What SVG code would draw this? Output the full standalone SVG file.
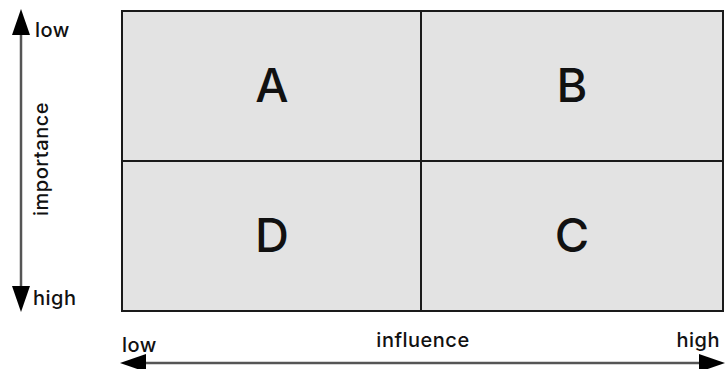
<svg xmlns="http://www.w3.org/2000/svg" width="726" height="369" viewBox="0 0 726 369">
  <style>
    .lbl { font-family: Inter, "Open Sans", sans-serif; font-size: 20px; font-weight: 500; letter-spacing: 0.5px; fill: #111; }
    .big { font-family: Inter, "Open Sans", sans-serif; font-size: 47px; font-weight: 500; fill: #111; text-anchor: middle; }
    .cell { fill: #e3e3e3; stroke: #1a1a1a; stroke-width: 2; }
    .axis { stroke: #555; stroke-width: 2.5; fill: none; }
  </style>

  <rect width="726" height="369" fill="#fff"/>

  <g id="quadrant-A"><rect class="cell" x="122" y="11" width="299" height="150"/><text class="big" x="272" y="102">A</text></g>
  <g id="quadrant-B"><rect class="cell" x="421" y="11" width="302" height="150"/><text class="big" x="572" y="102">B</text></g>
  <g id="quadrant-D"><rect class="cell" x="122" y="161" width="299" height="150"/><text class="big" x="272" y="252">D</text></g>
  <g id="quadrant-C"><rect class="cell" x="421" y="161" width="302" height="150"/><text class="big" x="572" y="252">C</text></g>

  <g id="connectors">
    <!-- vertical importance axis -->
    <line class="axis" x1="21" y1="30" x2="21" y2="290"/>
    <path d="M21,9 L30,35 L12,35 Z" fill="#000"/>
    <path d="M21,312 L30,286 L12,286 Z" fill="#000"/>
    <!-- horizontal influence axis -->
    <line class="axis" x1="140" y1="363" x2="705" y2="363"/>
    <path d="M120,363 L146,354 L146,372 Z" fill="#000"/>
    <path d="M725,363 L699,354 L699,372 Z" fill="#000"/>
  </g>

  <g id="axis-labels">
    <text class="lbl" x="35" y="37">low</text>
    <text class="lbl" x="33" y="305">high</text>
    <text class="lbl" text-anchor="middle" transform="translate(48,159) rotate(-90)">importance</text>
    <text class="lbl" x="122" y="352">low</text>
    <text class="lbl" x="423" y="347" text-anchor="middle">influence</text>
    <text class="lbl" x="720" y="347" text-anchor="end">high</text>
  </g>
</svg>
